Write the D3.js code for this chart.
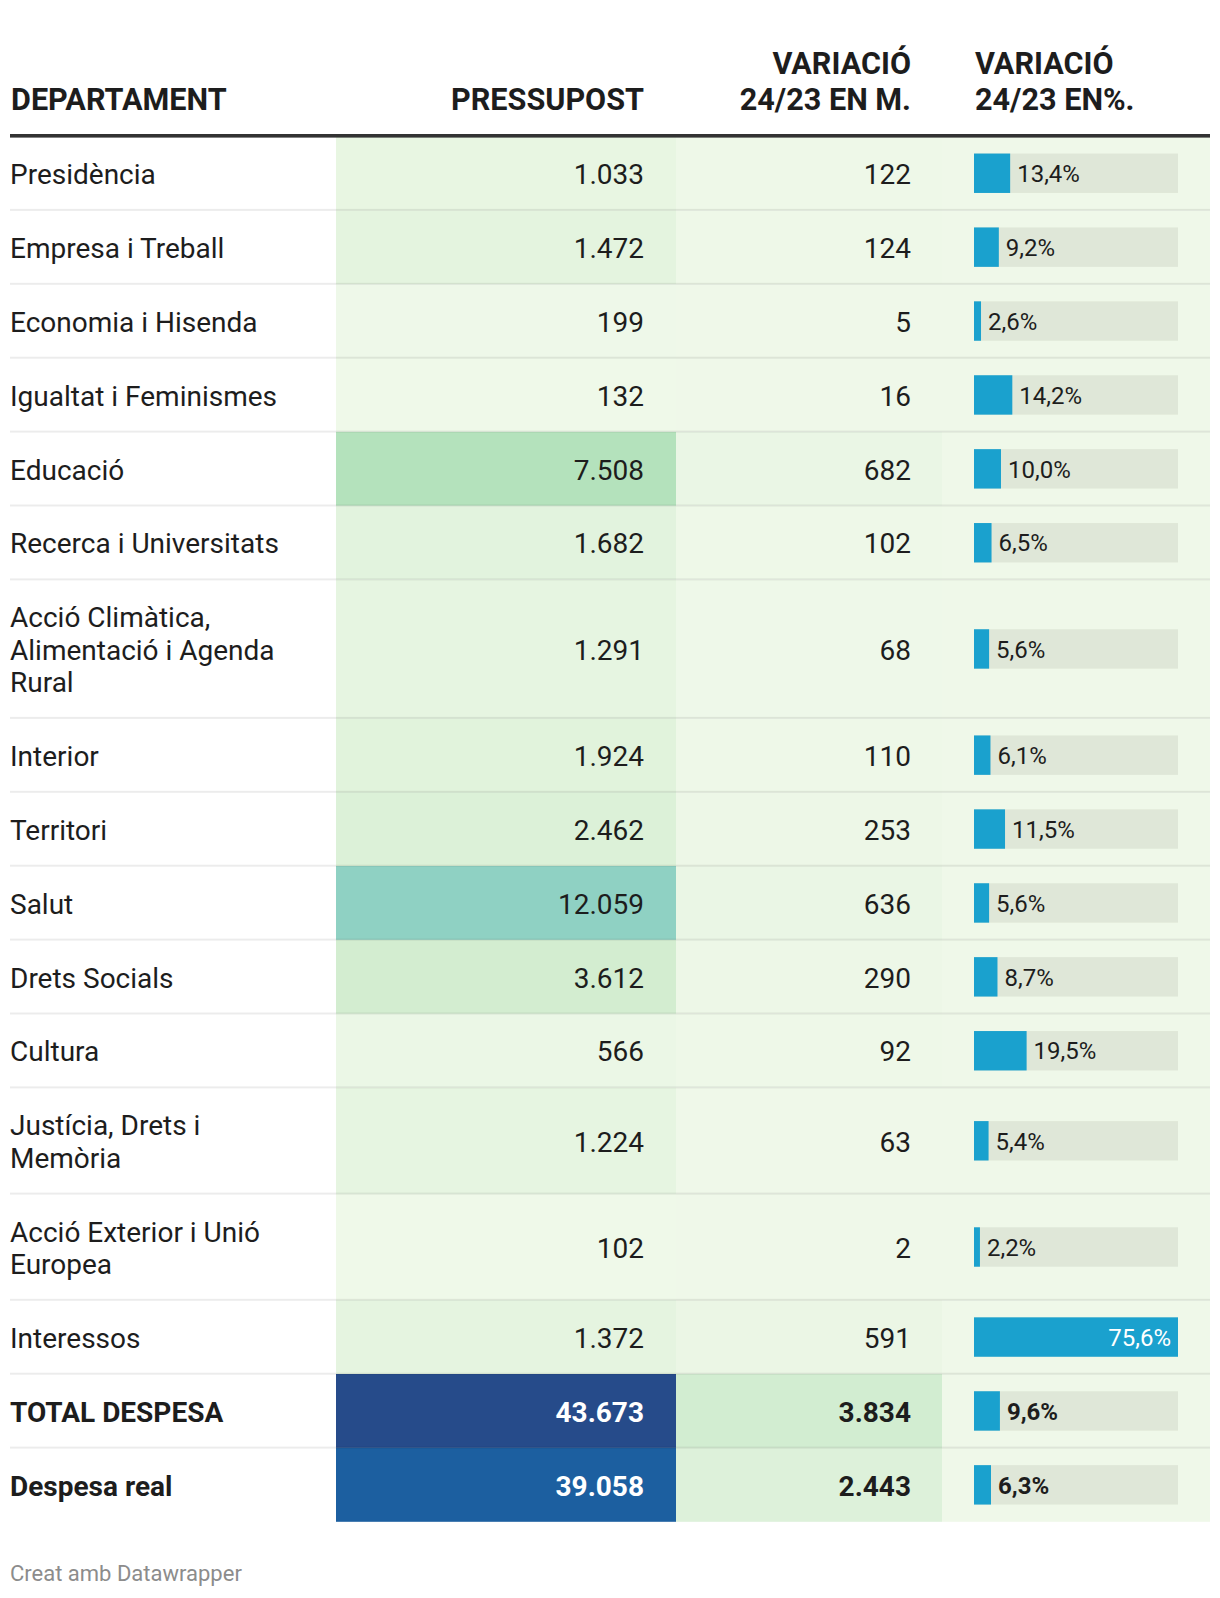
<!DOCTYPE html>
<html><head><meta charset="utf-8">
<script src="https://cdn.jsdelivr.net/npm/d3@7"></script>
<style>
body{margin:0;background:#fff;}
svg text{font-family:Roboto,"Noto Sans",sans-serif;}
</style></head><body>
<svg id="chart" width="1220" height="1598"></svg>
<script>
// ---- data ----
const departaments = ["Presidència","Empresa i Treball","Economia i Hisenda","Igualtat i Feminismes","Educació","Recerca i Universitats","Acció Climàtica, Alimentació i Agenda Rural","Interior","Territori","Salut","Drets Socials","Cultura","Justícia, Drets i Memòria","Acció Exterior i Unió Europea","Interessos","TOTAL DESPESA","Despesa real"];
const pressupost = [1033,1472,199,132,7508,1682,1291,1924,2462,12059,3612,566,1224,102,1372,43673,39058];
const variacioM = [122,124,5,16,682,102,68,110,253,636,290,92,63,2,591,3834,2443];
const variacioPct = [13.4,9.2,2.6,14.2,10.0,6.5,5.6,6.1,11.5,5.6,8.7,19.5,5.4,2.2,75.6,9.6,6.3];
const filesTotals = ["TOTAL DESPESA","Despesa real"];
const capcaleres = [["DEPARTAMENT"],["PRESSUPOST"],["VARIACIÓ","24/23 EN M."],["VARIACIÓ","24/23 EN%."]];
const peu = "Creat amb Datawrapper";

// ---- layout ----
const svg = d3.select("#chart");
const colX = [10, 336, 676, 942, 1210];
const fs = 28, hfs = 30.6, lineH = 32.3, rowBase = 73.9;
const padR2 = 32, padR3 = 31;
const textColor = "#1d1d1d";
const loc = d3.formatLocale({decimal:",", thousands:".", grouping:[3], currency:["","€"]});
const fmtN = loc.format(",d"), fmtP = v => loc.format(",.1f")(v) + "%";

const col2Color = d3.scaleLinear()
  .domain([0, 3600, 7500, 12000, 39000, 43700])
  .range(["#f0f9ea","#d3edd0","#b4e2bc","#8fd1c3","#1c5fa0","#264b8a"])
  .interpolate(d3.interpolateLab).clamp(true);
const col3Color = d3.scaleLinear().domain([0, d3.max(variacioM)])
  .range(["#eff8e9","#d2edd1"]).interpolate(d3.interpolateLab);
const barX = d3.scaleLinear().domain([0, d3.max(variacioPct)]).range([0, 204]);
const barX0 = colX[3] + 32;

// wrap names
const measurer = svg.append("text").attr("font-size", fs).attr("visibility","hidden");
function wrap(str, maxW){
  const words = str.split(" "); const lines = []; let cur = "";
  words.forEach(w => {
    const t = cur ? cur + " " + w : w;
    measurer.text(t);
    if (measurer.node().getComputedTextLength() > maxW && cur){ lines.push(cur); cur = w; }
    else cur = t;
  });
  if (cur) lines.push(cur);
  return lines;
}
const rows = departaments.map((d,i) => ({
  name: d, lines: wrap(d, 300), p: pressupost[i], m: variacioM[i], pct: variacioPct[i],
  bold: filesTotals.includes(d)
}));
measurer.remove();

let y = 136.3;
rows.forEach(r => { r.h = rowBase + (r.lines.length-1)*lineH; r.y = y; y += r.h; });

// backgrounds
const g = svg.append("g");
rows.forEach(r => {
  g.append("rect").attr("x", colX[1]).attr("y", r.y).attr("width", colX[2]-colX[1]).attr("height", r.h).attr("fill", col2Color(r.p));
  g.append("rect").attr("x", colX[2]).attr("y", r.y).attr("width", colX[3]-colX[2]).attr("height", r.h).attr("fill", col3Color(r.m));
  g.append("rect").attr("x", colX[3]).attr("y", r.y).attr("width", colX[4]-colX[3]).attr("height", r.h).attr("fill", "#eff8e9");
});
// separators
rows.slice(0,-1).forEach(r => {
  g.append("rect").attr("x", colX[0]).attr("y", r.y + r.h - 1.3).attr("width", colX[4]-colX[0]).attr("height", 2).attr("fill", "rgba(0,0,0,0.075)");
});

// header
const hLast = 110, hLine = 36;
const hx = [{x: colX[0]+1, a:"start"},{x: colX[2]-padR2, a:"end"},{x: colX[3]-padR3, a:"end"},{x: barX0+1, a:"start"}];
capcaleres.forEach((c,i) => {
  c.forEach((t,j) => {
    svg.append("text").attr("x", hx[i].x).attr("y", hLast - (c.length-1-j)*hLine)
      .attr("text-anchor", hx[i].a).attr("font-size", hfs).attr("font-weight", 700)
      .attr("fill", textColor).text(t);
  });
});
svg.append("rect").attr("x", colX[0]).attr("y", 134).attr("width", colX[4]-colX[0]).attr("height", 3.6).attr("fill", "#333");

// cells
rows.forEach(r => {
  const cy = r.y + r.h/2;
  const fw = r.bold ? 700 : 400;
  const n = r.lines.length;
  r.lines.forEach((l,j) => {
    svg.append("text").attr("x", colX[0]).attr("y", cy + 10.7 + (j-(n-1)/2)*lineH)
      .attr("font-size", fs).attr("font-weight", fw).attr("fill", textColor).text(l);
  });
  const bg = d3.lab(col2Color(r.p));
  svg.append("text").attr("x", colX[2]-padR2).attr("y", cy + 10.7).attr("text-anchor","end")
    .attr("font-size", fs).attr("font-weight", fw).attr("fill", bg.l < 55 ? "#fff" : textColor).text(fmtN(r.p));
  svg.append("text").attr("x", colX[3]-padR3).attr("y", cy + 10.7).attr("text-anchor","end")
    .attr("font-size", fs).attr("font-weight", fw).attr("fill", textColor).text(fmtN(r.m));
  // bar
  svg.append("rect").attr("x", barX0).attr("y", cy-19.7).attr("width", barX.range()[1]).attr("height", 39.4).attr("fill", "#dfe7d8");
  const bw = barX(r.pct);
  svg.append("rect").attr("x", barX0).attr("y", cy-19.7).attr("width", bw).attr("height", 39.4).attr("fill", "#1aa1ce");
  const inside = bw > 120;
  svg.append("text").attr("x", inside ? barX0 + bw - 7 : barX0 + bw + 7).attr("y", cy + 8.7)
    .attr("text-anchor", inside ? "end" : "start").attr("font-size", 24).attr("font-weight", fw)
    .attr("fill", inside ? "#fff" : textColor).text(fmtP(r.pct));
});

svg.append("text").attr("x", colX[0]).attr("y", 1581).attr("font-size", 22).attr("fill", "#8c8c8c").text(peu);
</script>
</body></html>
